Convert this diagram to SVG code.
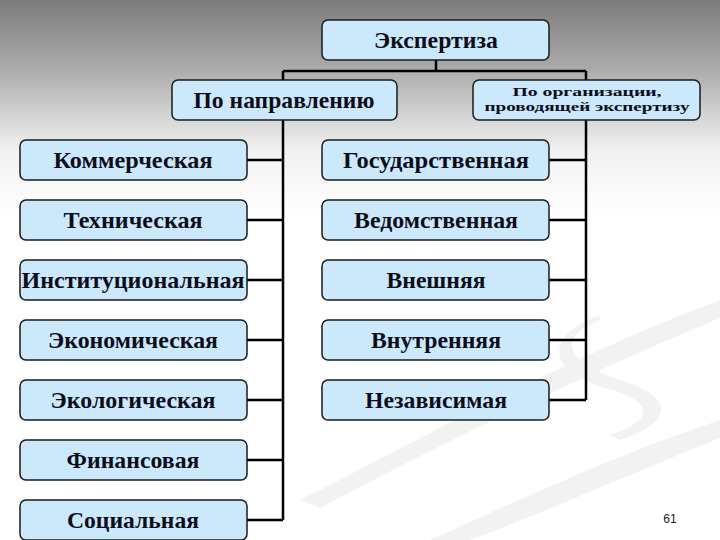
<svg xmlns="http://www.w3.org/2000/svg" width="720" height="540" viewBox="0 0 720 540">
<defs>
<linearGradient id="bg" x1="0" y1="0" x2="0" y2="1">
<stop offset="0" stop-color="#7c7c7c"/>
<stop offset="0.12" stop-color="#a8a8a8"/>
<stop offset="0.28" stop-color="#f2f2f2"/>
<stop offset="0.4" stop-color="#ffffff"/>
<stop offset="1" stop-color="#ffffff"/>
</linearGradient>
<style>
.box{fill:#cbe9fb;stroke:#1a1a1a;stroke-width:1.5}
.t{font-weight:bold;font-size:23px;fill:#0d0d1a;text-anchor:middle}
.ts{font-weight:bold;font-size:12.5px;fill:#0d0d1a;text-anchor:middle}
.c{stroke:#000;stroke-width:2.5;fill:none}
.sw{fill:#f2f2f2}
</style>
</defs>
<rect width="720" height="540" fill="url(#bg)"/>
<g id="decor">
<path class="sw" d="M300 500 C420 440 560 360 720 300 L720 318 C570 380 430 450 320 508 Z"/>
<path class="sw" d="M430 540 C540 490 630 450 720 420 L720 438 C640 470 550 510 470 540 Z"/>
<path class="sw" d="M600 320 C560 335 560 360 620 380 C670 395 680 420 620 440 L610 435 C660 418 650 400 605 388 C545 370 545 335 600 315 Z"/>
</g>
<g id="connectors">
<path class="c" d="M436 60 V71 M283 71 H586 M283 71 V80 M586 71 V80"/>
<path class="c" d="M283 120 V520 M247 160 H283 M247 220 H283 M247 280 H283 M247 340 H283 M247 400 H283 M247 460 H283 M247 520 H283"/>
<path class="c" d="M586 120 V400 M549 160 H586 M549 220 H586 M549 280 H586 M549 340 H586 M549 400 H586"/>
</g>
<g font-family="'Liberation Serif', 'Times New Roman', 'DejaVu Serif', serif">
<g id="n-root"><rect class="box" x="322" y="20" width="227" height="40" rx="6"/><text class="t" x="436" y="48" textLength="124" lengthAdjust="spacingAndGlyphs">Экспертиза</text></g>
<g id="n-dir"><rect class="box" x="172" y="80" width="225" height="40" rx="6"/><text class="t" x="284" y="108" textLength="181" lengthAdjust="spacingAndGlyphs">По направлению</text></g>
<g id="n-org"><rect class="box" x="473" y="80" width="227" height="40" rx="6"/><text class="ts" x="587" y="96" textLength="149" lengthAdjust="spacingAndGlyphs">По организации,</text><text class="ts" x="587" y="111" textLength="205" lengthAdjust="spacingAndGlyphs">проводящей экспертизу</text></g>
<g id="n-l1"><rect class="box" x="20" y="140" width="227" height="40" rx="6"/><text class="t" x="133" y="168" textLength="159" lengthAdjust="spacingAndGlyphs">Коммерческая</text></g>
<g id="n-l2"><rect class="box" x="20" y="200" width="227" height="40" rx="6"/><text class="t" x="133" y="228" textLength="139" lengthAdjust="spacingAndGlyphs">Техническая</text></g>
<g id="n-l3"><rect class="box" x="20" y="260" width="227" height="40" rx="6"/><text class="t" x="133" y="288" textLength="223" lengthAdjust="spacingAndGlyphs">Институциональная</text></g>
<g id="n-l4"><rect class="box" x="20" y="320" width="227" height="40" rx="6"/><text class="t" x="133" y="348" textLength="170" lengthAdjust="spacingAndGlyphs">Экономическая</text></g>
<g id="n-l5"><rect class="box" x="20" y="380" width="227" height="40" rx="6"/><text class="t" x="133" y="408" textLength="165" lengthAdjust="spacingAndGlyphs">Экологическая</text></g>
<g id="n-l6"><rect class="box" x="20" y="440" width="227" height="40" rx="6"/><text class="t" x="133" y="468" textLength="133" lengthAdjust="spacingAndGlyphs">Финансовая</text></g>
<g id="n-l7"><rect class="box" x="20" y="500" width="227" height="40" rx="6"/><text class="t" x="133" y="528" textLength="132" lengthAdjust="spacingAndGlyphs">Социальная</text></g>
<g id="n-r1"><rect class="box" x="322" y="140" width="227" height="40" rx="6"/><text class="t" x="436" y="168" textLength="186" lengthAdjust="spacingAndGlyphs">Государственная</text></g>
<g id="n-r2"><rect class="box" x="322" y="200" width="227" height="40" rx="6"/><text class="t" x="436" y="228" textLength="164" lengthAdjust="spacingAndGlyphs">Ведомственная</text></g>
<g id="n-r3"><rect class="box" x="322" y="260" width="227" height="40" rx="6"/><text class="t" x="436" y="288" textLength="99" lengthAdjust="spacingAndGlyphs">Внешняя</text></g>
<g id="n-r4"><rect class="box" x="322" y="320" width="227" height="40" rx="6"/><text class="t" x="436" y="348" textLength="130" lengthAdjust="spacingAndGlyphs">Внутренняя</text></g>
<g id="n-r5"><rect class="box" x="322" y="380" width="227" height="40" rx="6"/><text class="t" x="436" y="408" textLength="142" lengthAdjust="spacingAndGlyphs">Независимая</text></g>
</g>
<text x="670" y="523" font-family="'Liberation Sans', Arial, sans-serif" font-size="12" fill="#222" text-anchor="middle">61</text>
</svg>
